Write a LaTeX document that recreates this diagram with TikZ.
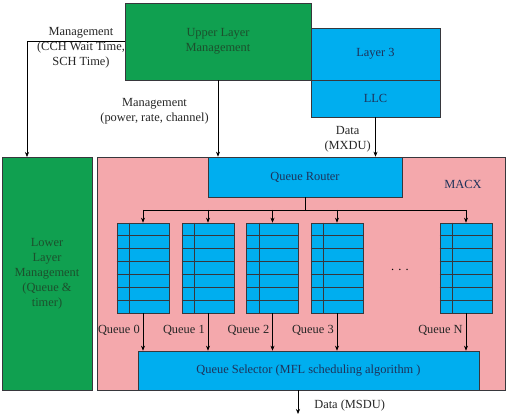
\documentclass[tikz,border=0pt]{standalone}
\usepackage{fontspec}
\setmainfont{Liberation Serif}
\usetikzlibrary{positioning,arrows.meta,calc}

\definecolor{mgmtgreen}{RGB}{16,160,80}
\definecolor{mgmttext}{RGB}{28,80,45}
\definecolor{layerblue}{RGB}{0,174,239}
\definecolor{layertext}{RGB}{30,50,90}
\definecolor{macpink}{RGB}{244,168,172}
\definecolor{edgegray}{RGB}{55,55,60}

\tikzset{
    gbox/.style={draw=edgegray, fill=mgmtgreen, text=mgmttext, align=center, inner sep=0pt},
    bbox/.style={draw=edgegray, fill=layerblue, text=layertext, align=center, inner sep=0pt},
    qbox/.style={draw=edgegray, fill=layerblue, minimum width=52pt, minimum height=90pt, inner sep=0pt},
    lbl/.style={text=black!85, align=center, inner sep=2pt},
}

\begin{document}
\begin{tikzpicture}[x=1pt, y=-1pt, font=\fontsize{12.4}{15}\selectfont,
    >={Stealth[length=5pt,width=4pt]}, line width=0.6pt]

    \useasboundingbox (0,0) rectangle (507,414);

    % MAC extension block
    \node[draw=edgegray, fill=macpink, minimum width=408pt, minimum height=233pt, inner sep=0pt]
        (macx) at (301,273.5) {};
    \node[text=layertext] (macxlbl) at (463,184) {MACX};

    % Management blocks
    \node[gbox, minimum width=186pt, minimum height=77pt] (ulm) at (218,41.5) {Upper Layer\\Management};
    \node[gbox, minimum width=90pt, minimum height=233pt] (llm) at (47,273.5)
        {Lower\\Layer\\Management\\(Queue \&\\timer)};

    % Layer 3 / LLC
    \node[bbox, minimum width=129pt, minimum height=52pt] (l3) at (375.5,54) {Layer 3};
    \node[bbox, minimum width=129pt, minimum height=37pt] (llc) at (375.5,98.5) {LLC};

    % Router and selector
    \node[bbox, minimum width=194pt, minimum height=40pt] (router) at (305,177) {Queue Router};
    \node[bbox, minimum width=341pt, minimum height=39pt] (sel) at (308.5,370.5)
        {Queue Selector (MFL scheduling algorithm )};

    % Management arrows
    \coordinate (ulmout) at (125,41);
    \coordinate (llmin) at (27,157);
    \draw[->] (ulmout) -| (llmin);
    \node[lbl] (mgmt1) at (81,48) {Management\\(CCH Wait Time,\\SCH Time)};
    \draw[->] (ulm.south) -- (ulm.south |- router.north);
    \node[lbl, anchor=east] (mgmt2) at (211,111) {Management\\(power, rate, channel)};

    % Data in
    \draw[->] (llc.south) -- (llc.south |- router.north);
    \node[lbl, anchor=east] (mxdu) at (373,139) {Data\\(MXDU)};

    % Queues
    \coordinate (bus) at (305,210);
    \coordinate (qlabels) at (0,330);
    \draw (router.south) -- (bus);
    \foreach \n/\x/\name in {0/143/0, 1/208/1, 2/272.5/2, 3/337/3, 4/466/N}
    {
        \node[qbox] (q\n) at (\x,268) {};
        \draw[edgegray] ($(q\n.north west)+(13,0)$) -- ($(q\n.south west)+(13,0)$);
        \foreach \r in {1,...,6}
            \draw[edgegray] ($(q\n.north west)+(0,\r*12.86)$) -- ($(q\n.north east)+(0,\r*12.86)$);
        \draw[->] (q\n.north |- bus) -- (q\n.north);
        \draw[->] (q\n.south) -- (q\n.south |- sel.north);
        \node[lbl, anchor=east] (ql\n) at ($(q\n.south |- qlabels)+(-1,0)$) {Queue \name};
    }
    \draw (q0.north |- bus) -- (q4.north |- bus);
    \node (dots) at (400,270) {.\,\,.\,\,.};

    % Data out
    \coordinate (out) at (298,414);
    \draw[->] (sel.south -| out) -- (out);
    \node[lbl, anchor=west] (msdu) at (312,406) {Data (MSDU)};

\end{tikzpicture}
\end{document}
